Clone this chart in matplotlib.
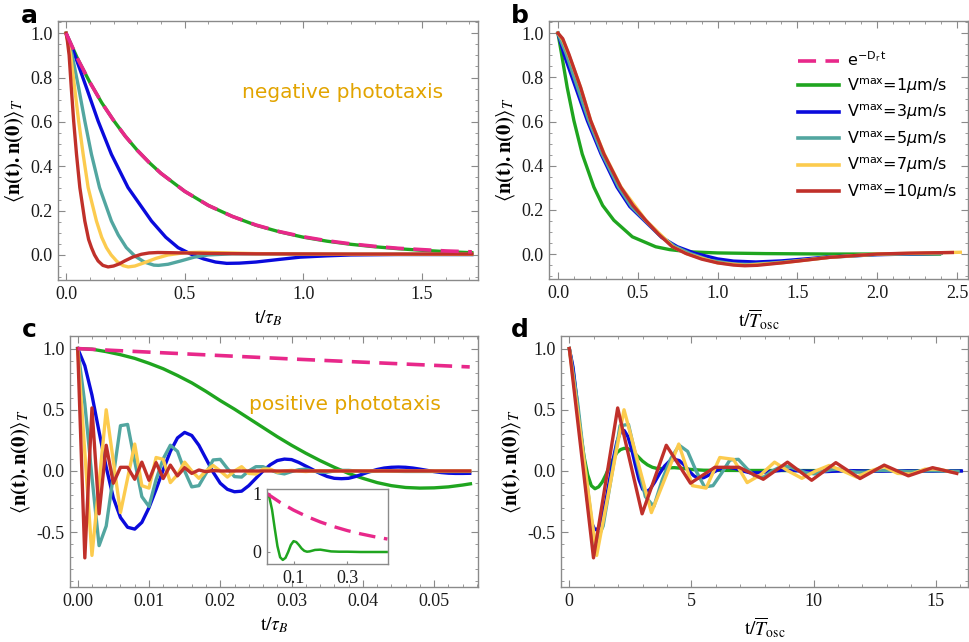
import matplotlib
matplotlib.use('Agg')
import matplotlib.pyplot as plt
from matplotlib.lines import Line2D
from matplotlib.ticker import MultipleLocator, FormatStrFormatter
from matplotlib.font_manager import FontProperties

# ---------------- colours ----------------
C_PINK = '#E8288A'
C_GREEN = '#1FA51F'
C_BLUE = '#0A0ADC'
C_TEAL = '#52A6A0'
C_YELLOW = '#FCCB4E'
C_RED = '#C0302A'
C_TEXT = '#E2A400'

# ---------------- panel a (negative phototaxis, t/tau_B) ----------------
a_t_exp = [0, 0.05, 0.1, 0.15, 0.2, 0.25, 0.3, 0.35, 0.4, 0.5, 0.6, 0.7, 0.8, 0.9, 1.0,
           1.1, 1.2, 1.3, 1.4, 1.5, 1.6, 1.71]
a_pink = [1.0, 0.882, 0.779, 0.687, 0.607, 0.535, 0.472, 0.417, 0.368, 0.287, 0.223, 0.174,
          0.135, 0.105, 0.082, 0.064, 0.050, 0.039, 0.030, 0.024, 0.018, 0.014]
a_green = [1.0, 0.882, 0.779, 0.687, 0.607, 0.535, 0.472, 0.417, 0.368, 0.287, 0.223, 0.174,
           0.134, 0.104, 0.080, 0.062, 0.048, 0.037, 0.028, 0.021, 0.015, 0.010]

a_red_t = [0, 0.005, 0.013, 0.022, 0.032, 0.044, 0.058, 0.079, 0.095, 0.107, 0.12, 0.135,
           0.155, 0.177, 0.2, 0.225, 0.247, 0.28, 0.317, 0.35, 0.387, 0.45, 0.6, 0.8, 1.2, 1.71]
a_red = [1.0, 0.97, 0.90, 0.754, 0.604, 0.454, 0.304, 0.153, 0.07, 0.033, 0.0, -0.027,
         -0.047, -0.054, -0.05, -0.04, -0.027, -0.01, 0.003, 0.009, 0.011, 0.01, 0.007,
         0.005, 0.004, 0.004]

a_yel_t = [0, 0.008, 0.019, 0.036, 0.053, 0.072, 0.093, 0.128, 0.15, 0.17, 0.19, 0.215,
           0.24, 0.262, 0.29, 0.33, 0.38, 0.43, 0.5, 0.565, 0.65, 0.8, 1.0, 1.4, 1.71]
a_yel = [1.0, 0.96, 0.904, 0.754, 0.604, 0.454, 0.304, 0.153, 0.08, 0.033, 0.0, -0.03,
         -0.048, -0.054, -0.05, -0.035, -0.015, 0.0, 0.01, 0.012, 0.01, 0.006, 0.004,
         0.003, 0.003]

a_teal_t = [0, 0.01, 0.025, 0.053, 0.079, 0.107, 0.141, 0.191, 0.22, 0.254, 0.29, 0.33,
            0.37, 0.39, 0.43, 0.48, 0.54, 0.6, 0.7, 0.9, 1.2, 1.71]
a_teal = [1.0, 0.96, 0.904, 0.754, 0.604, 0.454, 0.304, 0.153, 0.09, 0.033, -0.005, -0.032,
          -0.046, -0.047, -0.042, -0.028, -0.01, 0.0, 0.005, 0.005, 0.003, 0.002]

a_blue_t = [0, 0.015, 0.036, 0.086, 0.135, 0.191, 0.261, 0.36, 0.42, 0.472, 0.528, 0.58,
            0.63, 0.677, 0.73, 0.8, 0.9, 0.986, 1.1, 1.2, 1.4, 1.71]
a_blue = [1.0, 0.96, 0.904, 0.754, 0.604, 0.454, 0.304, 0.153, 0.08, 0.033, 0.003, -0.018,
          -0.032, -0.038, -0.037, -0.032, -0.02, -0.01, -0.004, 0.0, 0.002, 0.002]

# ---------------- panel b (negative phototaxis, t/T_osc) ----------------
b_green_t = [0, 0.023, 0.058, 0.10, 0.152, 0.225, 0.28, 0.35, 0.466, 0.612, 0.7, 0.82, 1.0,
             1.3, 1.7, 2.0, 2.39]
b_green = [1.0, 0.904, 0.754, 0.604, 0.453, 0.303, 0.22, 0.153, 0.078, 0.033, 0.02, 0.01,
           0.005, 0.002, 0.0, 0.0, 0.0]

b_blue_t = [0, 0.038, 0.111, 0.184, 0.27, 0.37, 0.45, 0.539, 0.65, 0.748, 0.86, 1.0, 1.1,
            1.24, 1.4, 1.5, 1.7, 2.0, 2.2, 2.4]
b_blue = [1.0, 0.904, 0.754, 0.604, 0.453, 0.303, 0.215, 0.153, 0.075, 0.033, 0.003, -0.022,
          -0.032, -0.036, -0.031, -0.025, -0.013, -0.003, 0.0, 0.003]

b_teal_t = [0, 0.05, 0.12, 0.19, 0.277, 0.38, 0.46, 0.545, 0.63, 0.73, 0.83, 0.95, 1.1, 1.2,
            1.35, 1.5, 1.7, 2.0, 2.4]
b_teal = [1.0, 0.91, 0.76, 0.61, 0.453, 0.303, 0.215, 0.153, 0.09, 0.035, 0.002, -0.028,
          -0.045, -0.047, -0.04, -0.03, -0.015, -0.002, 0.004]

b_yel_t = [0, 0.03, 0.069, 0.142, 0.205, 0.29, 0.395, 0.55, 0.72, 0.81, 1.0, 1.17, 1.4, 1.7,
           2.0, 2.52]
b_yel = [1.0, 0.97, 0.90, 0.754, 0.604, 0.453, 0.303, 0.153, 0.033, 0.0, -0.04, -0.051,
         -0.04, -0.015, 0.0, 0.008]

b_red_t = [0, 0.03, 0.069, 0.142, 0.205, 0.288, 0.393, 0.47, 0.549, 0.63, 0.716, 0.80, 0.9,
           1.0, 1.1, 1.17, 1.25, 1.4, 1.5, 1.7, 2.0, 2.2, 2.47]
b_red = [1.0, 0.975, 0.904, 0.754, 0.604, 0.453, 0.303, 0.22, 0.153, 0.09, 0.033, 0.003,
         -0.023, -0.04, -0.05, -0.053, -0.051, -0.04, -0.032, -0.015, 0.0, 0.004, 0.007]

# ---------------- panel c (positive phototaxis, t/tau_B) ----------------
c_exp_t = [0, 0.005, 0.01, 0.015, 0.02, 0.025, 0.03, 0.035, 0.04, 0.045, 0.05, 0.055]
c_pink = [1.0, 0.985, 0.971, 0.957, 0.943, 0.929, 0.915, 0.902, 0.889, 0.876, 0.863, 0.85]

c_green_t = [0, 0.002, 0.004, 0.006, 0.008, 0.010, 0.012, 0.014, 0.016, 0.018, 0.020, 0.022,
             0.024, 0.026, 0.028, 0.030, 0.032, 0.034, 0.036, 0.038, 0.040, 0.042, 0.044,
             0.046, 0.048, 0.050, 0.052, 0.054, 0.0551]
c_green = [1.0, 0.995, 0.975, 0.95, 0.92, 0.88, 0.835, 0.78, 0.72, 0.65, 0.575, 0.505, 0.43,
           0.355, 0.28, 0.21, 0.145, 0.085, 0.03, -0.02, -0.06, -0.095, -0.12, -0.135, -0.14,
           -0.138, -0.13, -0.115, -0.105]

# common sample grid (step 0.001 tau_B) for the sampled, oscillating curves
t_c_samples = [0.000, 0.001, 0.002, 0.003, 0.004, 0.005, 0.006, 0.007, 0.008, 0.009,
               0.010, 0.011, 0.012, 0.013, 0.014, 0.015, 0.016, 0.017, 0.018, 0.019,
               0.020, 0.021, 0.022, 0.023, 0.024, 0.025, 0.026, 0.027, 0.028, 0.029,
               0.030, 0.031, 0.032, 0.033, 0.034, 0.035, 0.036, 0.037, 0.038, 0.039,
               0.040, 0.041, 0.042, 0.043, 0.044, 0.045, 0.046, 0.047, 0.048, 0.049,
               0.050, 0.051, 0.052, 0.053, 0.054, 0.055]

c_blue = [1.0, 0.86, 0.62, 0.32, 0.03, -0.22, -0.38, -0.46, -0.475, -0.42, -0.30, -0.15,
          0.01, 0.16, 0.27, 0.315, 0.29, 0.21, 0.10, -0.01, -0.10, -0.15, -0.17, -0.165,
          -0.12, -0.06, 0.0, 0.05, 0.085, 0.097, 0.093, 0.07, 0.04, 0.01, -0.02, -0.045,
          -0.06, -0.063, -0.06, -0.045, -0.025, -0.005, 0.012, 0.024, 0.03, 0.032, 0.03,
          0.024, 0.015, 0.005, -0.005, -0.013, -0.018, -0.02, -0.02, -0.019]

osc_teal = [1.0, 0.55, -0.05, -0.61, -0.45, -0.04, 0.37, 0.38, 0.08, -0.21, -0.29, -0.07,
            0.10, 0.21, 0.16, 0.0, -0.13, -0.12, -0.02, 0.09, 0.095, 0.02, -0.046, -0.05,
            0.0, 0.035, 0.035, 0.01, -0.014, -0.024, -0.005, 0.01, 0.015, 0.0, -0.01, -0.01,
            0.0, 0.005, 0.005, 0.0, -0.005, -0.005, 0.0, 0.003, 0.0, -0.003, -0.004, -0.004,
            -0.004, -0.004, -0.004, -0.004, -0.004, -0.004, -0.004, -0.004]

osc_yellow = [1.0, 0.15, -0.69, -0.10, 0.50, 0.08, -0.34, -0.06, 0.22, -0.12, -0.14, 0.11,
              0.095, -0.095, -0.03, 0.072, 0.0, -0.06, 0.0, 0.045, 0.0, -0.05, 0.0, 0.035,
              -0.02, -0.025, 0.015, 0.015, -0.01, 0.0, 0.005, 0.0, -0.005, 0.0, 0.003, 0.0,
              0.0, 0.0, 0.0, 0.0, 0.0, 0.0, 0.0, 0.0, 0.0, 0.0, 0.0, 0.0, 0.0, 0.0, 0.0,
              0.0, 0.0, 0.0, 0.0, 0.0]

osc_red = [1.0, -0.71, 0.515, -0.35, 0.21, -0.10, 0.03, 0.03, -0.068, 0.072, -0.076, 0.068,
           -0.062, 0.048, -0.04, 0.027, -0.02, 0.008, -0.006, 0.003, 0.0, 0.0, 0.0, 0.0,
           0.0, 0.0, 0.0, 0.0, 0.0, 0.0, 0.0, 0.0, 0.0, 0.0, 0.0, 0.0, 0.0, 0.0, 0.0, 0.0,
           0.0, 0.0, 0.0, 0.0, 0.0, 0.0, 0.0, 0.0, 0.0, 0.0, 0.0, 0.0, 0.0, 0.0, 0.0, 0.0]

# inset of panel c
ins_t_exp = [0, 0.05, 0.1, 0.15, 0.2, 0.25, 0.3, 0.35, 0.4, 0.45]
ins_pink = [1.0, 0.846, 0.715, 0.605, 0.512, 0.433, 0.366, 0.31, 0.262, 0.221]
ins_green_t = [0, 0.01, 0.02, 0.03, 0.04, 0.05, 0.06, 0.07, 0.08, 0.09, 0.10, 0.11, 0.12,
               0.13, 0.14, 0.15, 0.16, 0.18, 0.20, 0.22, 0.24, 0.27, 0.30, 0.35, 0.40, 0.447]
ins_green = [1.0, 0.93, 0.72, 0.40, 0.10, -0.09, -0.135, -0.10, 0.0, 0.12, 0.185, 0.17,
             0.12, 0.06, 0.02, 0.005, 0.01, 0.035, 0.04, 0.025, 0.01, 0.005, 0.005, 0.0,
             0.0, 0.0]

# ---------------- panel d (positive phototaxis, t/T_osc) ----------------
d_green_t = [0, 0.15, 0.3, 0.45, 0.6, 0.75, 0.9, 1.05, 1.2, 1.35, 1.5, 1.65, 1.8, 1.95, 2.1,
             2.25, 2.4, 2.55, 2.7, 2.85, 3.0, 3.2, 3.4, 3.6, 3.8, 4.0, 4.3, 4.6, 5.0, 5.5,
             6.0, 7.0, 8.0, 10.0, 12.0, 14.0, 16.0]
d_green = [1.0, 0.83, 0.58, 0.33, 0.12, -0.03, -0.12, -0.145, -0.13, -0.09, -0.03, 0.04,
           0.10, 0.15, 0.175, 0.185, 0.182, 0.165, 0.14, 0.11, 0.08, 0.05, 0.03, 0.02, 0.02,
           0.025, 0.027, 0.022, 0.012, 0.006, 0.005, 0.004, 0.004, 0.003, 0.002, 0.002,
           0.002]

d_blue_t = [0, 0.15, 0.3, 0.45, 0.6, 0.75, 0.9, 1.05, 1.2, 1.35, 1.5, 1.65, 1.8, 1.95, 2.1,
            2.25, 2.4, 2.55, 2.7, 2.85, 3.0, 3.15, 3.3, 3.5, 3.7, 3.9, 4.1, 4.3, 4.5, 4.7,
            4.9, 5.1, 5.3, 5.5, 5.7, 5.9, 6.2, 6.5, 6.8, 7.1, 7.4, 7.8, 8.2, 8.8, 9.5, 10.5,
            11.5, 12.5, 13.5, 14.5, 15.5, 16.05]
d_blue = [1.0, 0.85, 0.6, 0.3, 0.02, -0.25, -0.42, -0.48, -0.47, -0.38, -0.24, -0.07, 0.10,
          0.24, 0.32, 0.33, 0.28, 0.18, 0.05, -0.07, -0.15, -0.17, -0.15, -0.09, -0.02,
          0.04, 0.08, 0.095, 0.085, 0.05, 0.0, -0.04, -0.06, -0.055, -0.035, -0.01, 0.02,
          0.03, 0.02, 0.0, -0.015, -0.015, -0.005, 0.008, 0.0, -0.005, 0.003, -0.003,
          0.002, -0.002, 0.0, 0.0]

t_d_teal = [0, 0.346, 0.692, 1.038, 1.384, 1.73, 2.076, 2.422, 2.768, 3.114, 3.46, 3.806,
            4.152, 4.498, 4.844, 5.19, 5.536, 5.882, 6.228, 6.574, 6.92, 7.266, 7.612,
            7.958, 8.304, 8.65, 8.996, 9.342, 9.688, 10.034, 10.38, 10.726, 11.072, 11.418,
            11.764, 12.11, 12.456, 12.802, 13.148, 13.494, 13.84, 14.186, 14.532, 14.878,
            15.224, 15.57, 15.916]
t_d_yellow = [0, 0.56, 1.12, 1.68, 2.24, 2.8, 3.36, 3.92, 4.48, 5.04, 5.6, 6.16, 6.72, 7.28,
              7.84, 8.4, 8.96, 9.52, 10.08, 10.64, 11.2, 11.76, 12.32, 12.88, 13.44, 14.0,
              14.56, 15.12, 15.68]
t_d_red = [0, 0.99, 1.98, 2.98, 3.97, 4.96, 5.96, 6.95, 7.94, 8.93, 9.92, 10.91, 11.9,
           12.89, 13.88, 14.87, 15.86]

# ---------------- labels ----------------
legend_labels = [r'$\mathrm{e}^{-\mathrm{D}_{\mathrm{r}}\,\mathrm{t}}$',
                 r'V$^{\mathrm{max}}$=1$\mu$m/s', r'V$^{\mathrm{max}}$=3$\mu$m/s',
                 r'V$^{\mathrm{max}}$=5$\mu$m/s', r'V$^{\mathrm{max}}$=7$\mu$m/s',
                 r'V$^{\mathrm{max}}$=10$\mu$m/s']
ylab = r'$\langle\mathbf{n(t).n(0)}\rangle_{T}$'
xlab_tau = r'$\mathrm{t}/\tau_{B}$'
xlab_osc = r'$\mathrm{t}/\overline{T}_{\mathrm{osc}}$'

# ---------------- figure ----------------
plt.rcParams['font.family'] = ['Liberation Serif', 'DejaVu Serif']
plt.rcParams['mathtext.fontset'] = 'stix'

W, H = 969, 642
fig = plt.figure(figsize=(W / 100, H / 100), dpi=100)


def add_ax(l, t, r, b):
    return fig.add_axes([l / W, 1 - b / H, (r - l) / W, (b - t) / H])


axa = add_ax(58, 21, 478, 280)
axb = add_ax(549, 21, 968, 279)
axc = add_ax(70, 336, 478, 587)
axd = add_ax(561, 336, 968, 587)

LW = 2.4
GRAY = '#8a8a8a'


def style(ax, xlim, ylim, xmaj, xmin, ymaj, ymin, xfmt, yfmt, xlabel):
    ax.set_xlim(*xlim)
    ax.set_ylim(*ylim)
    ax.xaxis.set_major_locator(MultipleLocator(xmaj))
    ax.xaxis.set_minor_locator(MultipleLocator(xmin))
    ax.yaxis.set_major_locator(MultipleLocator(ymaj))
    ax.yaxis.set_minor_locator(MultipleLocator(ymin))
    ax.xaxis.set_major_formatter(FormatStrFormatter(xfmt))
    ax.yaxis.set_major_formatter(FormatStrFormatter(yfmt))
    for s in ax.spines.values():
        s.set_color(GRAY)
        s.set_linewidth(1.0)
    ax.tick_params(which='both', direction='in', top=True, right=True, color=GRAY,
                   labelsize=13, labelcolor='#1a1a1a')
    ax.tick_params(which='major', length=5, width=0.8, pad=4)
    ax.tick_params(which='minor', length=2.5, width=0.6)
    ax.set_ylabel(ylab, fontsize=15, labelpad=3)
    ax.set_xlabel(xlab_tau if xlabel == 'tau' else xlab_osc, fontsize=14, labelpad=4)


def dashed(ax, x, y, lw=2.6, **kw):
    ln, = ax.plot(x, y, color=C_PINK, lw=lw, **kw)
    ln.set_dashes((5, 2.6))
    return ln


# panel a
axa.plot(a_t_exp, a_green, color=C_GREEN, lw=LW)
axa.plot(a_blue_t, a_blue, color=C_BLUE, lw=LW)
axa.plot(a_teal_t, a_teal, color=C_TEAL, lw=LW)
axa.plot(a_yel_t, a_yel, color=C_YELLOW, lw=LW)
axa.plot(a_red_t, a_red, color=C_RED, lw=LW)
dashed(axa, a_t_exp, a_pink)
style(axa, (-0.034, 1.736), (-0.113, 1.055), 0.5, 0.1, 0.2, 0.05, '%.1f', '%.1f', 'tau')

# panel b
axb.plot(b_green_t, b_green, color=C_GREEN, lw=LW)
axb.plot(b_blue_t, b_blue, color=C_BLUE, lw=LW)
axb.plot(b_teal_t, b_teal, color=C_TEAL, lw=LW)
axb.plot(b_yel_t, b_yel, color=C_YELLOW, lw=LW)
axb.plot(b_red_t, b_red, color=C_RED, lw=LW)
style(axb, (-0.056, 2.568), (-0.113, 1.055), 0.5, 0.1, 0.2, 0.05, '%.1f', '%.1f', 'osc')

handles = [Line2D([], [], color=C_PINK, lw=2.6, dashes=(5, 2.6)),
           Line2D([], [], color=C_GREEN, lw=2.6),
           Line2D([], [], color=C_BLUE, lw=2.6),
           Line2D([], [], color=C_TEAL, lw=2.6),
           Line2D([], [], color=C_YELLOW, lw=2.6),
           Line2D([], [], color=C_RED, lw=2.6)]
fp = FontProperties(family='DejaVu Sans', size=11.5, math_fontfamily='dejavusans')
axb.legend(handles, legend_labels, loc='upper left', bbox_to_anchor=(0.594, 0.885),
           frameon=False, prop=fp, handlelength=2.6, handletextpad=0.5, labelspacing=0.43,
           borderpad=0, borderaxespad=0)

# panel c
axc.plot(c_green_t, c_green, color=C_GREEN, lw=LW)
axc.plot(t_c_samples, c_blue, color=C_BLUE, lw=LW)
axc.plot(t_c_samples, osc_teal, color=C_TEAL, lw=LW)
axc.plot(t_c_samples, osc_yellow, color=C_YELLOW, lw=LW)
axc.plot(t_c_samples, osc_red, color=C_RED, lw=LW)
dashed(axc, c_exp_t, c_pink)
style(axc, (-0.00108, 0.05616), (-0.948, 1.1027), 0.01, 0.002, 0.5, 0.1, '%.2f', '%.1f',
      'tau')

# inset
axi = add_ax(266.7, 489.3, 388, 564.3)
axi.set_facecolor('white')
axi.plot(ins_green_t, ins_green, color=C_GREEN, lw=1.8)
dashed(axi, ins_t_exp, ins_pink, lw=2.4)
axi.set_xlim(0, 0.452)
axi.set_ylim(-0.21, 1.07)
axi.set_xticks([0.1, 0.3])
axi.set_xticklabels(['0.1', '0.3'])
axi.set_yticks([0, 1])
axi.set_yticklabels(['0', '1'])
for s in axi.spines.values():
    s.set_color(GRAY)
    s.set_linewidth(1.0)
axi.tick_params(direction='in', length=2, color=GRAY, labelsize=13, pad=4,
                labelcolor='#1a1a1a')

# panel d
nt = len(t_d_teal)
ny = len(t_d_yellow)
nr = len(t_d_red)
axd.plot(d_green_t, d_green, color=C_GREEN, lw=LW)
axd.plot(d_blue_t, d_blue, color=C_BLUE, lw=LW)
axd.plot(t_d_teal, osc_teal[:nt], color=C_TEAL, lw=LW)
axd.plot(t_d_yellow, osc_yellow[:ny], color=C_YELLOW, lw=LW)
axd.plot(t_d_red, osc_red[:nr], color=C_RED, lw=LW)
style(axd, (-0.34, 16.32), (-0.948, 1.1027), 5, 1, 0.5, 0.1, '%d', '%.1f', 'osc')

# annotations
fig.text(242 / W, 1 - 92 / H, 'negative phototaxis', color=C_TEXT, fontsize=14.5,
         family='DejaVu Sans', ha='left', va='center')
fig.text(249 / W, 1 - 405 / H, 'positive phototaxis', color=C_TEXT, fontsize=14.5,
         family='DejaVu Sans', ha='left', va='center')

for lbl, x, y in [('a', 21, 23), ('b', 511, 23), ('c', 22, 337), ('d', 511, 337)]:
    fig.text(x / W, 1 - y / H, lbl, fontsize=18, fontweight='bold', family='DejaVu Sans',
             ha='left', va='baseline')

fig.savefig('out.png', dpi=100)
